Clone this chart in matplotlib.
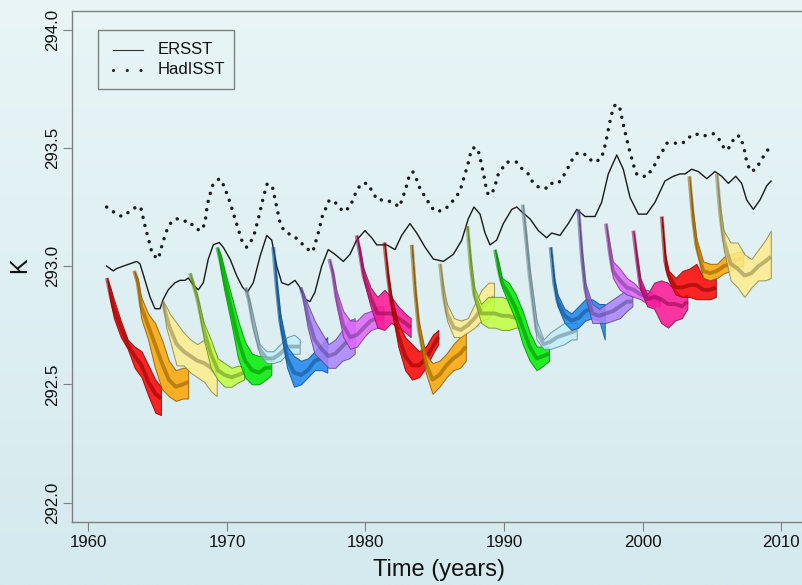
import numpy as np
import matplotlib
matplotlib.use("Agg")
import matplotlib.pyplot as plt
from matplotlib.lines import Line2D
from matplotlib.patches import Rectangle
from matplotlib import font_manager

names = {f.name for f in font_manager.fontManager.ttflist}
FAM = ["Liberation Sans Narrow", "Liberation Sans"] if "Liberation Sans Narrow" in names else ["Liberation Sans"]
NARROW = "Liberation Sans Narrow" in names
plt.rcParams["font.family"] = FAM

# ---------------- observations ----------------
ersst_year = [1961.31, 1961.79, 1962.04, 1962.51, 1963.0, 1963.48, 1963.72, 1964.08, 1964.44, 1964.80,
              1965.16, 1965.40, 1965.76, 1966.25, 1966.61, 1966.97, 1967.21, 1967.57, 1967.93, 1968.29,
              1968.65, 1969.01, 1969.44, 1969.73, 1970.22, 1970.70, 1971.13, 1971.47, 1971.90, 1972.38,
              1972.87, 1973.23, 1973.59, 1973.95, 1974.43, 1974.91, 1975.27, 1975.63, 1975.99, 1976.35,
              1976.84, 1977.31, 1977.80, 1978.40, 1978.88, 1979.36, 1979.96, 1980.45, 1980.81, 1981.53,
              1982.13, 1982.61, 1983.21, 1983.70, 1984.30, 1984.90, 1985.62, 1986.34, 1986.95, 1987.42,
              1987.83, 1988.27, 1988.63, 1988.99, 1989.47, 1989.95, 1990.56, 1990.92, 1991.28, 1991.88,
              1992.48, 1993.08, 1993.44, 1994.04, 1994.64, 1995.25, 1995.85, 1996.57, 1997.05, 1997.53,
              1998.14, 1998.61, 1999.10, 1999.70, 2000.30, 2000.90, 2001.62, 2002.22, 2002.71, 2003.07,
              2003.55, 2004.03, 2004.64, 2005.23, 2005.72, 2006.20, 2006.73, 2007.16, 2007.52, 2008.00,
              2008.48, 2008.97, 2009.28]
ersst_val = [293.00, 292.98, 292.99, 293.00, 293.01, 293.02, 293.01, 292.94, 292.87, 292.82,
             292.82, 292.86, 292.90, 292.93, 292.94, 292.94, 292.95, 292.92, 292.90, 292.93,
             293.03, 293.09, 293.10, 293.08, 293.03, 292.96, 292.91, 292.89, 292.93, 293.04,
             293.13, 293.11, 293.00, 292.93, 292.92, 292.94, 292.91, 292.86, 292.85, 292.89,
             293.00, 293.07, 293.05, 293.02, 293.05, 293.11, 293.15, 293.12, 293.09, 293.09,
             293.07, 293.13, 293.18, 293.14, 293.08, 293.03, 293.02, 293.05, 293.11, 293.20,
             293.25, 293.22, 293.14, 293.09, 293.11, 293.18, 293.24, 293.25, 293.23, 293.20,
             293.15, 293.12, 293.14, 293.13, 293.18, 293.24, 293.21, 293.21, 293.27, 293.39,
             293.47, 293.41, 293.29, 293.22, 293.22, 293.27, 293.36, 293.38, 293.39, 293.39,
             293.41, 293.40, 293.37, 293.40, 293.38, 293.35, 293.38, 293.35, 293.28, 293.24,
             293.28, 293.34, 293.36]

hadisst_year = [1961.31, 1961.79, 1962.40, 1962.95, 1963.43, 1963.77, 1964.08, 1964.44, 1964.61, 1965.04,
                1965.36, 1965.65, 1966.01, 1966.41, 1966.84, 1967.28, 1967.69, 1968.12, 1968.41, 1968.58,
                1968.94, 1969.44, 1969.78, 1970.22, 1970.58, 1971.06, 1971.42, 1971.90, 1972.26, 1972.62,
                1972.91, 1973.30, 1973.59, 1973.88, 1974.31, 1974.79, 1975.32, 1975.87, 1976.19, 1976.59,
                1976.88, 1977.39, 1977.80, 1978.40, 1978.88, 1979.36, 1979.72, 1980.13, 1980.45, 1980.85,
                1981.41, 1981.96, 1982.44, 1982.69, 1982.92, 1983.09, 1983.41, 1983.74, 1983.98, 1984.37,
                1984.71, 1985.14, 1985.74, 1986.22, 1986.63, 1986.95, 1987.18, 1987.35, 1987.55, 1987.74,
                1988.07, 1988.27, 1988.41, 1988.56, 1988.68, 1988.87, 1989.23, 1989.40, 1989.59, 1989.95,
                1990.20, 1990.63, 1990.92, 1991.32, 1991.75, 1992.12, 1992.60, 1993.20, 1993.44, 1993.92,
                1994.28, 1994.57, 1994.82, 1995.13, 1995.36, 1995.97, 1996.40, 1996.93, 1997.17, 1997.37,
                1997.60, 1997.85, 1998.01, 1998.32, 1998.43, 1998.61, 1998.81, 1999.10, 1999.39, 1999.58,
                1999.82, 2000.35, 2000.66, 2000.90, 2001.14, 2001.39, 2001.75, 2002.27, 2002.90, 2003.23,
                2003.79, 2004.39, 2005.11, 2005.36, 2005.60, 2005.88, 2006.12, 2006.44, 2006.68, 2007.04,
                2007.28, 2007.40, 2007.52, 2007.81, 2008.19, 2008.48, 2008.90, 2009.28]
hadisst_val = [293.25, 293.23, 293.21, 293.23, 293.25, 293.25, 293.17, 293.09, 293.05, 293.03,
               293.10, 293.15, 293.19, 293.20, 293.19, 293.19, 293.16, 293.15, 293.18, 293.26,
               293.34, 293.37, 293.34, 293.27, 293.20, 293.11, 293.08, 293.12, 293.20, 293.29,
               293.35, 293.33, 293.25, 293.17, 293.14, 293.13, 293.10, 293.07, 293.06, 293.14,
               293.21, 293.28, 293.27, 293.23, 293.25, 293.32, 293.35, 293.35, 293.32, 293.28,
               293.28, 293.27, 293.25, 293.29, 293.33, 293.37, 293.40, 293.36, 293.32, 293.29,
               293.25, 293.23, 293.24, 293.27, 293.30, 293.34, 293.39, 293.42, 293.47, 293.50,
               293.50, 293.46, 293.42, 293.38, 293.34, 293.30, 293.32, 293.35, 293.39, 293.42,
               293.44, 293.44, 293.44, 293.41, 293.39, 293.35, 293.33, 293.33, 293.35, 293.35,
               293.38, 293.41, 293.44, 293.47, 293.48, 293.47, 293.44, 293.45, 293.48, 293.53,
               293.60, 293.66, 293.68, 293.68, 293.65, 293.60, 293.55, 293.48, 293.42, 293.39,
               293.38, 293.38, 293.41, 293.43, 293.46, 293.48, 293.52, 293.52, 293.52, 293.54,
               293.56, 293.55, 293.56, 293.55, 293.53, 293.50, 293.49, 293.52, 293.55, 293.55,
               293.51, 293.48, 293.44, 293.40, 293.41, 293.44, 293.48, 293.51]

# ---------------- hindcast plumes ----------------
lead_years = [0, 0.25, 0.5, 1.0, 1.5, 2.0, 2.5, 3.0, 3.5, 3.9]
start_years = [1961.33, 1963.30, 1965.36, 1967.33, 1969.30, 1971.35, 1973.34, 1975.32, 1977.39, 1979.36,
               1981.36, 1983.34, 1985.38, 1987.35, 1989.35, 1991.35, 1993.37, 1995.37, 1997.36, 1999.34,
               2001.39, 2003.38, 2005.36]
plume_low = [
    [292.95, 292.85, 292.78, 292.70, 292.65, 292.57, 292.53, 292.45, 292.38, 292.37],
    [292.98, 292.91, 292.78, 292.69, 292.57, 292.48, 292.45, 292.43, 292.44, 292.44],
    [292.85, 292.74, 292.69, 292.58, 292.58, 292.55, 292.53, 292.51, 292.47, 292.45],
    [292.97, 292.91, 292.86, 292.69, 292.57, 292.52, 292.49, 292.49, 292.51, 292.52],
    [293.08, 292.98, 292.90, 292.76, 292.61, 292.53, 292.50, 292.50, 292.52, 292.54],
    [292.91, 292.83, 292.74, 292.63, 292.59, 292.59, 292.60, 292.63, 292.63, 292.63],
    [293.08, 292.88, 292.74, 292.57, 292.49, 292.50, 292.53, 292.56, 292.56, 292.55],
    [292.91, 292.83, 292.74, 292.63, 292.60, 292.57, 292.57, 292.60, 292.61, 292.63],
    [293.03, 292.95, 292.84, 292.70, 292.65, 292.66, 292.70, 292.73, 292.74, 292.74],
    [293.13, 293.03, 292.94, 292.83, 292.74, 292.73, 292.76, 292.74, 292.72, 292.70],
    [293.10, 292.94, 292.83, 292.66, 292.56, 292.52, 292.53, 292.57, 292.63, 292.67],
    [293.09, 292.87, 292.72, 292.55, 292.46, 292.49, 292.53, 292.56, 292.57, 292.60],
    [293.01, 292.86, 292.77, 292.70, 292.70, 292.72, 292.74, 292.77, 292.78, 292.83],
    [293.17, 292.98, 292.86, 292.76, 292.74, 292.74, 292.73, 292.73, 292.74, 292.74],
    [293.07, 292.97, 292.91, 292.84, 292.77, 292.67, 292.60, 292.56, 292.58, 292.60],
    [293.26, 293.09, 292.94, 292.69, 292.65, 292.65, 292.66, 292.67, 292.69, 292.69],
    [293.08, 292.91, 292.83, 292.76, 292.73, 292.74, 292.77, 292.78, 292.77, 292.69],
    [293.24, 293.01, 292.87, 292.76, 292.76, 292.76, 292.77, 292.78, 292.81, 292.83],
    [293.18, 293.04, 292.95, 292.90, 292.88, 292.87, 292.86, 292.84, 292.83, 292.83],
    [293.15, 293.01, 292.90, 292.83, 292.82, 292.76, 292.74, 292.77, 292.78, 292.82],
    [293.21, 292.99, 292.94, 292.88, 292.87, 292.87, 292.86, 292.86, 292.86, 292.87],
    [293.38, 293.18, 293.07, 292.95, 292.94, 292.95, 292.97, 292.98, 293.00, 293.00],
    [293.39, 293.19, 293.07, 292.94, 292.91, 292.87, 292.91, 292.94, 292.94, 292.95],
]
plume_high = [
    [292.95, 292.91, 292.86, 292.77, 292.69, 292.66, 292.64, 292.58, 292.52, 292.49],
    [292.98, 292.95, 292.87, 292.80, 292.76, 292.69, 292.60, 292.56, 292.57, 292.57],
    [292.85, 292.83, 292.80, 292.76, 292.72, 292.69, 292.67, 292.69, 292.67, 292.62],
    [292.97, 292.93, 292.88, 292.76, 292.69, 292.61, 292.59, 292.57, 292.58, 292.57],
    [293.08, 293.05, 292.99, 292.88, 292.77, 292.68, 292.63, 292.62, 292.62, 292.61],
    [292.91, 292.86, 292.80, 292.67, 292.64, 292.64, 292.67, 292.70, 292.71, 292.69],
    [293.08, 292.94, 292.80, 292.66, 292.62, 292.60, 292.61, 292.64, 292.67, 292.70],
    [292.91, 292.88, 292.84, 292.77, 292.72, 292.67, 292.69, 292.73, 292.77, 292.78],
    [293.03, 292.98, 292.90, 292.81, 292.77, 292.77, 292.80, 292.81, 292.83, 292.83],
    [293.13, 293.07, 292.99, 292.91, 292.87, 292.90, 292.87, 292.83, 292.80, 292.78],
    [293.10, 292.98, 292.88, 292.76, 292.70, 292.67, 292.64, 292.66, 292.71, 292.73],
    [293.09, 292.91, 292.77, 292.63, 292.59, 292.60, 292.63, 292.67, 292.70, 292.72],
    [293.01, 292.91, 292.84, 292.78, 292.77, 292.78, 292.84, 292.90, 292.93, 292.93],
    [293.17, 293.03, 292.91, 292.84, 292.87, 292.87, 292.87, 292.86, 292.83, 292.82],
    [293.07, 293.02, 292.95, 292.93, 292.88, 292.81, 292.72, 292.66, 292.66, 292.66],
    [293.26, 293.14, 292.99, 292.77, 292.69, 292.72, 292.74, 292.76, 292.76, 292.76],
    [293.08, 292.95, 292.88, 292.82, 292.80, 292.83, 292.86, 292.86, 292.84, 292.84],
    [293.24, 293.07, 292.93, 292.84, 292.82, 292.84, 292.86, 292.88, 292.90, 292.87],
    [293.18, 293.10, 293.02, 292.99, 292.95, 292.93, 292.90, 292.90, 292.88, 292.87],
    [293.15, 293.05, 292.95, 292.88, 292.93, 292.94, 292.93, 292.90, 292.87, 292.88],
    [293.21, 293.05, 292.98, 292.95, 292.98, 292.99, 293.01, 292.95, 292.94, 292.95],
    [293.38, 293.24, 293.12, 293.02, 293.01, 293.01, 293.04, 293.05, 293.06, 293.06],
    [293.39, 293.25, 293.15, 293.10, 293.10, 293.05, 293.03, 293.07, 293.11, 293.15],
]
plume_mean = [
    [292.95, 292.88, 292.82, 292.74, 292.67, 292.62, 292.58, 292.51, 292.46, 292.44],
    [292.98, 292.93, 292.83, 292.75, 292.67, 292.59, 292.52, 292.49, 292.50, 292.51],
    [292.85, 292.79, 292.74, 292.67, 292.64, 292.62, 292.60, 292.59, 292.57, 292.54],
    [292.97, 292.92, 292.87, 292.73, 292.63, 292.56, 292.54, 292.53, 292.54, 292.55],
    [293.08, 293.02, 292.95, 292.82, 292.69, 292.60, 292.56, 292.55, 292.57, 292.57],
    [292.91, 292.85, 292.77, 292.65, 292.61, 292.61, 292.63, 292.66, 292.66, 292.66],
    [293.08, 292.91, 292.77, 292.61, 292.55, 292.54, 292.56, 292.60, 292.61, 292.62],
    [292.91, 292.86, 292.79, 292.69, 292.65, 292.62, 292.63, 292.66, 292.69, 292.70],
    [293.03, 292.97, 292.87, 292.75, 292.70, 292.71, 292.74, 292.77, 292.78, 292.78],
    [293.13, 293.05, 292.96, 292.87, 292.80, 292.80, 292.80, 292.78, 292.76, 292.74],
    [293.10, 292.96, 292.85, 292.71, 292.62, 292.58, 292.58, 292.61, 292.66, 292.70],
    [293.09, 292.89, 292.74, 292.59, 292.52, 292.54, 292.58, 292.61, 292.63, 292.66],
    [293.01, 292.88, 292.80, 292.74, 292.73, 292.75, 292.78, 292.82, 292.85, 292.87],
    [293.17, 293.00, 292.88, 292.80, 292.80, 292.80, 292.79, 292.79, 292.78, 292.78],
    [293.07, 292.99, 292.93, 292.88, 292.82, 292.74, 292.66, 292.61, 292.62, 292.63],
    [293.26, 293.11, 292.96, 292.73, 292.67, 292.68, 292.70, 292.71, 292.72, 292.73],
    [293.08, 292.93, 292.85, 292.79, 292.77, 292.78, 292.81, 292.82, 292.81, 292.79],
    [293.24, 293.04, 292.90, 292.80, 292.79, 292.80, 292.81, 292.83, 292.85, 292.85],
    [293.18, 293.07, 292.98, 292.94, 292.91, 292.90, 292.88, 292.87, 292.85, 292.85],
    [293.15, 293.03, 292.92, 292.86, 292.87, 292.86, 292.84, 292.84, 292.83, 292.85],
    [293.21, 293.02, 292.96, 292.91, 292.91, 292.92, 292.92, 292.90, 292.90, 292.91],
    [293.38, 293.21, 293.09, 292.98, 292.97, 292.98, 293.00, 293.01, 293.03, 293.03],
    [293.39, 293.22, 293.11, 293.01, 292.99, 292.96, 292.97, 293.00, 293.02, 293.04],
]
fill_colors = ["#ff0000", "#ffa500", "#ffec8b", "#c0ff3e", "#00ee00",
               "#bfefff", "#1c86ee", "#ab82ff", "#e066ff", "#ff1493"]
dark_colors = ["#8b0000", "#8b5a00", "#8b814c", "#698b22", "#008b00",
               "#68838b", "#104e8b", "#5d478b", "#7a378b", "#8b0a50"]

x_ticks = [1960, 1970, 1980, 1990, 2000, 2010]
y_ticks = [292.0, 292.5, 293.0, 293.5, 294.0]
y_ticklabels = ["292.0", "292.5", "293.0", "293.5", "294.0"]

# ---------------- figure ----------------
W, H = 802, 585
fig = plt.figure(figsize=(W / 100, H / 100), dpi=100)
bg = fig.add_axes([0, 0, 1, 1], zorder=-10)
top = np.array([233, 245, 247]) / 255
bot = np.array([212, 234, 238]) / 255
t = np.linspace(0, 1, 256)[:, None]
grad = top[None, :] * (1 - t) + bot[None, :] * t
bg.imshow(grad[:, None, :], aspect="auto", extent=[0, 1, 0, 1])
bg.axis("off")

ax = fig.add_axes([72 / W, 1 - 522 / H, (803.6 - 72) / W, (522 - 11) / H])
ax.set_facecolor("none")
ax.set_xlim(1958.81, 2011.63)
ax.set_ylim(291.918, 294.079)

ax.plot(ersst_year, ersst_val, color="#1a1a1a", lw=1.0, zorder=3)
ax.plot(hadisst_year, hadisst_val, color="#1a1a1a", lw=2.5,
        linestyle=(0, (0.01, 2.4)), dash_capstyle="round", zorder=3)

for i, t0 in enumerate(start_years):
    x = [t0 + l for l in lead_years]
    fc = fill_colors[i % 10]
    dc = dark_colors[i % 10]
    ax.fill_between(x, plume_low[i], plume_high[i], facecolor=fc, edgecolor=dc,
                    alpha=0.85, lw=0.7, zorder=4 + i * 0.01)
    ax.plot(x, plume_mean[i], color=dc, alpha=0.55, lw=2.8, solid_capstyle="butt",
            zorder=4 + i * 0.01 + 0.005)

for s in ["left", "bottom", "top"]:
    ax.spines[s].set_color("#808080")
    ax.spines[s].set_linewidth(1.0)
ax.spines["right"].set_visible(False)

fs = 14.6 if NARROW else 12.2
ax.set_xticks(x_ticks)
ax.set_xticklabels([str(v) for v in x_ticks], fontsize=fs, color="#111111")
ax.set_yticks(y_ticks)
ax.set_yticklabels(y_ticklabels, fontsize=fs, color="#111111", rotation=90, va="center")
ax.tick_params(axis="both", direction="out", length=6.5, width=0.8, color="#808080")
ax.tick_params(axis="x", pad=3)
ax.tick_params(axis="y", pad=2)

lfs = 20.5 if NARROW else 17
fig.text(439 / W, 1 - 570 / H, "Time (years)", ha="center", va="center", fontsize=lfs, color="#111111")
fig.text(20 / W, 1 - 265 / H, "K", ha="center", va="center", fontsize=lfs, rotation=90, color="#111111")

# legend
def fx(px):
    return px / W

def fy(py):
    return 1 - py / H

fig.patches.append(Rectangle((fx(98), fy(89)), (234 - 98) / W, (89 - 30) / H,
                             transform=fig.transFigure, facecolor="none",
                             edgecolor="#808080", lw=1.0, zorder=10))
fig.add_artist(Line2D([fx(113), fx(143)], [fy(49.5), fy(49.5)], transform=fig.transFigure,
                      color="#333333", lw=0.8))
fig.add_artist(Line2D([fx(113), fx(146)], [fy(69.5), fy(69.5)], transform=fig.transFigure,
                      color="#222222", lw=2.3, linestyle=(0, (0.01, 4.3)),
                      dash_capstyle="round"))
lgfs = 14.4 if NARROW else 12.0
fig.text(fx(158), fy(49.5), "ERSST", ha="left", va="center", fontsize=lgfs, color="#111111")
fig.text(fx(158), fy(69.5), "HadISST", ha="left", va="center", fontsize=lgfs, color="#111111")

fig.savefig("out.png", dpi=100)
